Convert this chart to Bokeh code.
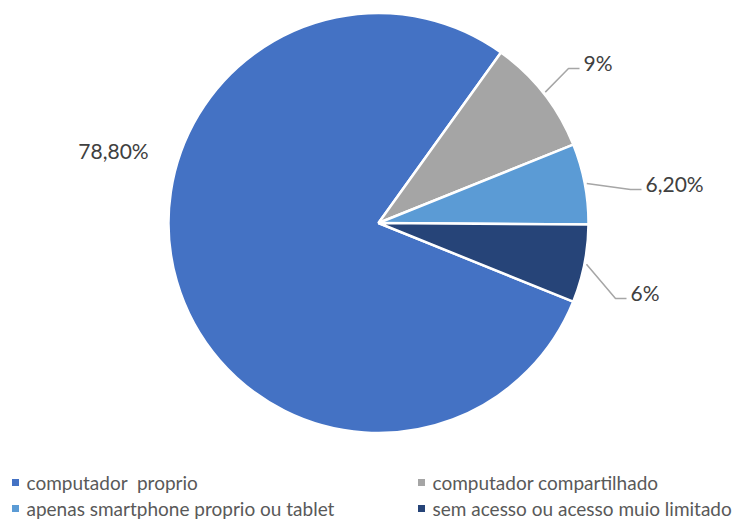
import math
from bokeh.plotting import figure
from bokeh.models import Range1d, ColumnDataSource
from bokeh.core.properties import value
from bokeh.embed import file_html
from bokeh.resources import INLINE

# ---------------- data ----------------
categories = ["computador  proprio", "computador compartilhado",
              "apenas smartphone proprio ou tablet", "sem acesso ou acesso muio limitado"]
values = [78.8, 9.0, 6.2, 6.0]
labels = ["78,80%", "9%", "6,20%", "6%"]
colors = ["#4472C4", "#A5A5A5", "#5B9BD5", "#264478"]

# ---------------- layout (screen px, y down) ----------------
W, H = 735, 523
cx, cy = 378, 222.5          # pie centre (screen)
R = 210                      # pie radius
first_angle = 112.0          # degrees clockwise from 12 o'clock
label_pos = [(113, 150), (583, 62), (645, 183), (630, 292)]   # text anchor
label_align = ["center", "left", "left", "left"]
use_leader = [False, True, True, True]
legend_pos = [(15, 482), (421, 482), (15, 508), (421, 508)]

def Y(ys):  # screen y -> data y (data y up)
    return H - ys

p = figure(width=W, height=H, output_backend="svg", toolbar_location=None,
           x_range=Range1d(0, W), y_range=Range1d(0, H),
           min_border=0, outline_line_color=None)
p.axis.visible = False
p.grid.visible = False
p.background_fill_color = "white"
p.border_fill_color = "white"

total = sum(values)
starts, ends, mids = [], [], []
a = first_angle
for v in values:
    span = v / total * 360.0
    starts.append(a)
    ends.append(a + span)
    mids.append(a + span / 2)
    a += span

def bk(deg):  # clockwise-from-12 -> bokeh radians ccw from +x
    return math.radians(90.0 - deg)

src = ColumnDataSource(dict(
    x=[cx] * len(values), y=[Y(cy)] * len(values),
    start=[bk(e) for e in ends], end=[bk(s) for s in starts],
    color=colors))
p.wedge(x="x", y="y", radius=R, start_angle="start", end_angle="end",
        fill_color="color", line_color="white", line_width=2.5, source=src)

# leader lines and labels
for i, lab in enumerate(labels):
    tx, ty = label_pos[i]
    if use_leader[i]:
        m = math.radians(mids[i])
        sx = cx + (R + 2) * math.sin(m)
        sy = cy - (R + 2) * math.cos(m)
        ex, ey = tx - 15, ty + 6
        hx = tx - 4
        p.line([sx, ex, hx], [Y(sy), Y(ey), Y(ey)], line_color="#A6A6A6", line_width=1.5)
    p.text(x=[tx], y=[Y(ty)], text=[lab], text_font=value("Lato"),
           text_font_size="21px", text_color="#404040",
           text_align=label_align[i], text_baseline="middle")

# legend
for i, cat in enumerate(categories):
    lx, ly = legend_pos[i]
    p.scatter(x=[lx], y=[Y(ly)], marker="square", size=7,
              fill_color=colors[i], line_color=None)
    p.text(x=[lx + 11], y=[Y(ly)], text=[cat.replace("  ", "\u00a0 ")],
           text_font=value("Lato"), text_font_size="19px", text_color="#595959",
           text_align="left", text_baseline="middle")

open("out.html", "w").write(file_html(p, INLINE))
